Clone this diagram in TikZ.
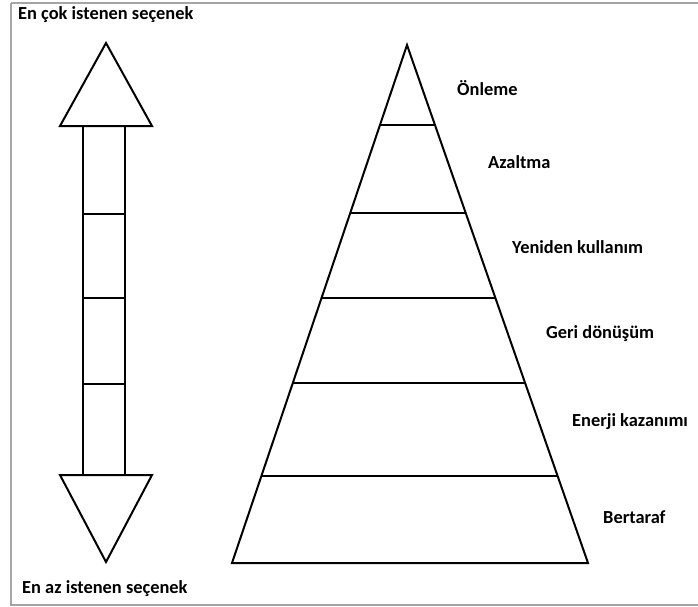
\documentclass[tikz,border=0pt]{standalone}
\usepackage{fontspec}
\setmainfont{Carlito}
\usetikzlibrary{calc}
\tikzset{
  shape line/.style={draw=black, line width=2pt, line join=miter},
  lbl/.style={font=\bfseries\fontsize{18.4}{22}\selectfont, inner sep=0pt, anchor=west},
  frame/.style={draw={rgb,255:red,165;green,165;blue,165}, line width=1.5pt}
}
\begin{document}
\begin{tikzpicture}[x=1pt,y=-1pt]
\useasboundingbox (0,0) rectangle (698,607);
\fill[white] (0,0) rectangle (698,607);
% frame
\draw[frame] (11,3) -- (700,3);
\draw[frame] (11,3) -- (11,605) -- (700,605);
% double arrow
\draw[shape line] (106,43) -- (152,126) -- (60,126) -- cycle;
\draw[shape line] (83,126) rectangle (125,475);
\draw[shape line] (83,214) -- (125,214);
\draw[shape line] (83,298) -- (125,298);
\draw[shape line] (83,384) -- (125,384);
\draw[shape line] (60,475) -- (152,475) -- (106,562) -- cycle;
% pyramid
\coordinate (apex) at (407,45);
\coordinate (bl) at (232,563);
\coordinate (br) at (588,563);
\draw[shape line] (apex) -- (br) -- (bl) -- cycle;
\foreach \yy in {125,213,298,383,476}{
  \draw[shape line] ($(apex)!{(\yy-45)/518}!(bl)$) -- ($(apex)!{(\yy-45)/518}!(br)$);
}
% labels
\node[lbl] (top) at (18,15) {En çok istenen seçenek};
\node[lbl] (bot) at (22,589) {En az istenen seçenek};
\node[lbl] (l1) at (457,88) {Önleme};
\node[lbl] (l2) at (488,162) {Azaltma};
\node[lbl] (l3) at (512,247) {Yeniden kullanım};
\node[lbl] (l4) at (546,334) {Geri dönüşüm};
\node[lbl] (l5) at (572,422) {Enerji kazanımı};
\node[lbl] (l6) at (603,517) {Bertaraf};
\end{tikzpicture}
\end{document}
